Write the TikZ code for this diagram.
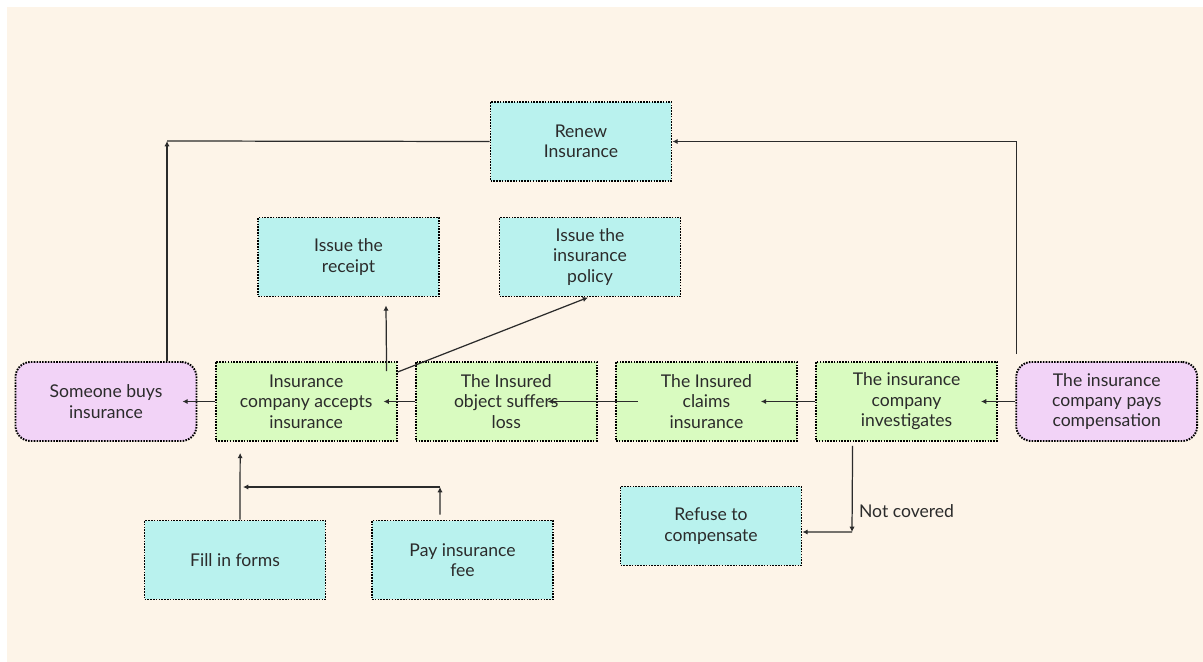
\documentclass[tikz,border=0pt]{standalone}
\usepackage{fontspec}
\setmainfont{Lato}
\usepackage{xcolor}
\usetikzlibrary{shapes,arrows.meta,positioning,calc}
\definecolor{paper}{HTML}{FDF4E8}
\definecolor{tealbox}{HTML}{B9F2EE}
\definecolor{limebox}{HTML}{D9FBC0}
\definecolor{pinkbox}{HTML}{F2D3F7}
\definecolor{inkgray}{HTML}{2B2B2B}

\begin{document}
\begin{tikzpicture}[
    x=0.02cm, y=-0.02cm,
    node distance=0.345cm,
    box/.style={rectangle, draw=black, line width=1.1pt, dash pattern=on 0.9pt off 0.7pt,
        minimum width=3.62cm, minimum height=1.58cm, align=center, text=inkgray,
        font=\fontsize{10}{11.6}\selectfont},
    action/.style={box, fill=tealbox},
    stage/.style={box, fill=limebox},
    party/.style={box, fill=pinkbox, rounded corners=0.3cm},
    arrow/.style={-{Latex[length=3pt,width=3pt]}, line width=0.7pt, draw=inkgray},
    link/.style={line width=0.7pt, draw=inkgray}
]
    % page
    \useasboundingbox (0,0) rectangle (1203,662);
    \fill[white] (0,0) rectangle (1203,662);
    \fill[paper] (7,7) rectangle (1203,662);

    % main row
    \node[party] (buys) at (106,401.5) {Someone buys\\insurance};
    \node[stage, right=of buys] (accepts) {Insurance\\company accepts\\insurance};
    \node[stage, right=of accepts] (loss) {The Insured\\object suffers\\loss};
    \node[stage, right=of loss] (claims) {The Insured\\claims\\insurance};
    \node[stage, right=of claims] (invest) {The insurance\\company\\investigates};
    \node[party, right=of invest] (pays) {The insurance\\company pays\\compensation};

    % other steps
    \node[action] (renew) at (581,141.5) {Renew\\Insurance};
    \node[action] (receipt) at (348.5,257) {Issue the\\receipt};
    \node[action] (policy) at (590,257) {Issue the\\insurance\\policy};
    \node[action] (forms) at (235,560) {Fill in forms};
    \node[action] (fee) at (462.5,560) {Pay insurance\\fee};
    \node[action] (refuse) at (711,526) {Refuse to\\compensate};
    \node[text=inkgray, font=\fontsize{10}{11.6}\selectfont] (nclabel) at (906.5,511) {Not covered};

    \coordinate (rturn) at (167,141);
    \coordinate (ncturn) at (852,532);
    \coordinate (feeturn) at (440,487);
    \coordinate (formsjoin) at (243,487);

    % renewal loop
    \draw[link] (renew.west) -- (rturn);
    \draw[arrow] (buys.north -| rturn) -- (rturn);
    \draw[arrow] ([xshift=0.02cm,yshift=0.14cm]pays.north west) |- (renew.east);

    % row arrows
    \draw[arrow] (pays.west) -- ([xshift=-0.34cm]invest.east);
    \draw[arrow] (invest.west) -- ([xshift=-0.74cm]claims.east);
    \draw[arrow] ([xshift=0.46cm]claims.west) -- ([xshift=-1cm]loss.east);
    \draw[arrow] (loss.west) -- ([xshift=-0.28cm]accepts.east);
    \draw[arrow] (accepts.west) -- ([xshift=-0.3cm]buys.east);

    % documents
    \draw[arrow] ([xshift=-0.22cm,yshift=-0.2cm]accepts.north east) -- ([xshift=0.75cm,yshift=-0.16cm]receipt.south);
    \draw[arrow] ([yshift=-0.22cm]accepts.north east) -- ([xshift=-0.04cm]policy.south);

    % paperwork
    \draw[arrow] ([xshift=0.1cm]forms.north) -- ([xshift=-1.32cm,yshift=-0.22cm]accepts.south);
    \draw[arrow] ([xshift=-0.45cm,yshift=0.1cm]fee.north) -- (feeturn);
    \draw[arrow] (feeturn) -- (formsjoin);

    % refusal
    \draw[arrow] ([xshift=-1.08cm,yshift=-0.08cm]invest.south) -- (ncturn);
    \draw[arrow] (ncturn) -- ([yshift=-0.12cm]refuse.east);
\end{tikzpicture}
\end{document}
